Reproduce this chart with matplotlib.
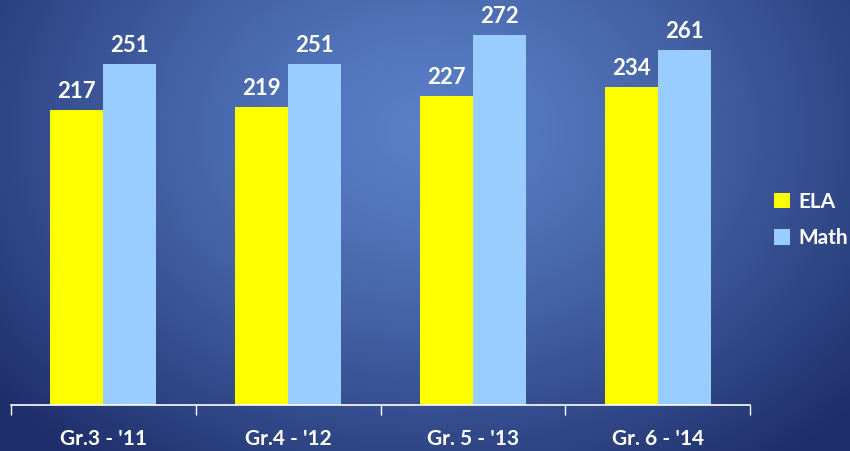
import matplotlib
matplotlib.use("Agg")
import matplotlib.pyplot as plt
import numpy as np

categories = ["Gr.3 - '11", "Gr.4 - '12", "Gr. 5 - '13", "Gr. 6 - '14"]
ela = [217, 219, 227, 234]
math_ = [251, 251, 272, 261]

fig = plt.figure(figsize=(8.5, 4.51), dpi=100)

# radial gradient background
bg = fig.add_axes([0, 0, 1, 1])
yy, xx = np.mgrid[0:451, 0:850]
r = np.sqrt(((xx - 430) / 560.0) ** 2 + ((yy - 130) / 420.0) ** 2)
r = np.clip(r, 0, 1)[..., None] ** 1.3
c_in = np.array([90, 128, 200]) / 255.0
c_out = np.array([30, 46, 106]) / 255.0
img = c_in * (1 - r) + c_out * r
bg.imshow(img, aspect="auto", extent=[0, 1, 0, 1])
bg.axis("off")

ax = fig.add_axes([11 / 850, 1 - 405 / 451, (750 - 11) / 850, 405 / 451])
ax.patch.set_alpha(0)
x = np.arange(len(categories))
w = 0.287
b1 = ax.bar(x - w / 2, ela, w, color="#FFFF00", label="ELA")
b2 = ax.bar(x + w / 2, math_, w, color="#99CCFF", label="Math")
font = "Lato"
for bars in (b1, b2):
    for b in bars:
        ax.annotate(f"{int(b.get_height())}", (b.get_x() + b.get_width() / 2, b.get_height()),
                    xytext=(0, 6), textcoords="offset points", ha="center", va="bottom",
                    color="white", fontsize=16, fontweight="bold", family=font)

ax.set_xlim(-0.5, len(categories) - 0.5)
ax.set_ylim(0, 298)
ax.set_yticks([])
for s in ("top", "right", "left"):
    ax.spines[s].set_visible(False)
ax.spines["bottom"].set_color("white")
ax.spines["bottom"].set_linewidth(1.2)
ax.set_xticks(np.arange(-0.5, len(categories), 1.0))
ax.set_xticklabels([])
ax.set_xticks(x, minor=True)
ax.set_xticklabels(categories, minor=True)
ax.tick_params(axis="x", which="major", length=7, color="white", width=1)
ax.tick_params(axis="x", which="minor", length=0, pad=17, labelcolor="white", labelsize=15)
for t in ax.get_xticklabels(minor=True):
    t.set_fontweight("bold")
    t.set_family(font)

leg = fig.legend(handles=[b1, b2], loc="center left", bbox_to_anchor=(0.91, 0.512),
                 frameon=False, borderpad=0, borderaxespad=0,
                 handlelength=0.8, handleheight=0.8, handletextpad=0.4,
                 labelspacing=0.8, prop={"family": font, "weight": "bold", "size": 15})
for t in leg.get_texts():
    t.set_color("white")

fig.savefig("out.png", dpi=100)
